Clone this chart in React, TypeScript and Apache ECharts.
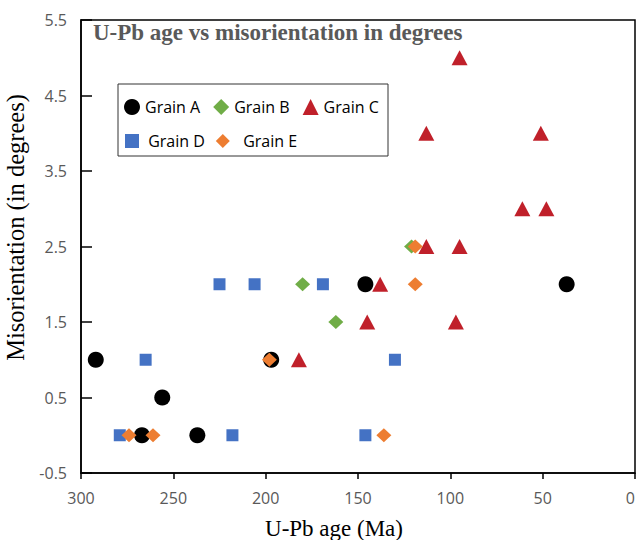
import React, { useEffect, useRef } from "react";
import * as echarts from "echarts";

const grainA: number[][] = [
  [292, 1], [256, 0.5], [267, 0], [237, 0], [197, 1], [146, 2], [37, 2],
];
const grainB: number[][] = [
  [121, 2.5], [180, 2], [162, 1.5],
];
const grainC: number[][] = [
  [95, 5], [113, 4], [51, 4], [61, 3], [48, 3], [113, 2.5], [95, 2.5],
  [138, 2], [145, 1.5], [97, 1.5], [182, 1],
];
const grainD: number[][] = [
  [225, 2], [206, 2], [169, 2], [265, 1], [130, 1], [279, 0], [218, 0], [146, 0],
];
const grainE: number[][] = [
  [119, 2.5], [119, 2], [198, 1], [274, 0], [261, 0], [136, 0],
];

const seriesNames = ["Grain A", "Grain B", "Grain C", "Grain D", "Grain E"];
const colors = ["#000000", "#70AD47", "#C0202A", "#4472C4", "#ED7D31"];

const titleText = "U-Pb age vs misorientation in degrees";
const xName = "U-Pb age (Ma)";
const yName = "Misorientation (in degrees)";

export default function App() {
  const ref = useRef<HTMLDivElement>(null);
  useEffect(() => {
    if (!ref.current) return;
    const chart = echarts.init(ref.current, null, { renderer: "svg" });
    const tickFont = {
      fontFamily: "'Open Sans', sans-serif",
      fontSize: 16,
      color: "#595959",
    };
    const option: any = {
      animation: false,
      backgroundColor: "#ffffff",
      title: {
        text: titleText,
        left: 93,
        top: 21,
        padding: 0,
        textStyle: {
          fontFamily: "'Liberation Serif', 'Times New Roman', serif",
          fontWeight: "bold",
          fontSize: 23,
          color: "#595959",
        },
      },
      grid: {
        left: 81,
        right: 3,
        top: 20,
        bottom: 67,
        outerBoundsMode: "none",
        containLabel: false,
        show: true,
        borderColor: "#000",
        borderWidth: 1.5,
        backgroundColor: "transparent",
      },
      graphic: [
        {
          type: "rect",
          z: 5,
          shape: { x: 118, y: 84, width: 270, height: 72 },
          style: { fill: "#ffffff", stroke: "#333333", lineWidth: 1 },
        },
      ],
      legend: [
        {
          z: 10,
          left: 124,
          top: 99,
          padding: 0,
          itemWidth: 16,
          itemHeight: 16,
          itemGap: 13,
          data: [
            { name: "Grain A", icon: "circle" },
            { name: "Grain B", icon: "diamond" },
            { name: "Grain C", icon: "triangle" },
          ],
          textStyle: {
            fontFamily: "'Open Sans', sans-serif",
            fontSize: 16,
            color: "#000",
          },
        },
        {
          z: 10,
          left: 125,
          top: 133,
          padding: 0,
          itemWidth: 14,
          itemHeight: 14,
          itemGap: 11,
          data: [
            { name: "Grain D", icon: "rect" },
            { name: "Grain E", icon: "diamond" },
          ],
          formatter: (name: string) => (name === "Grain E" ? "  " + name : " " + name),
          textStyle: {
            fontFamily: "'Open Sans', sans-serif",
            fontSize: 16,
            color: "#000",
          },
        },
      ],
      xAxis: {
        type: "value",
        inverse: true,
        min: 0,
        max: 300,
        interval: 50,
        name: xName,
        nameLocation: "middle",
        nameGap: 44,
        nameTextStyle: {
          fontFamily: "'Liberation Serif', 'Times New Roman', serif",
          fontSize: 23,
          color: "#000",
          padding: [0, 48, 0, 0],
        },
        axisLine: { show: true, onZero: false, lineStyle: { color: "#000", width: 1.5 } },
        axisTick: { show: true, inside: false, length: 6, lineStyle: { color: "#000", width: 1.5 } },
        axisLabel: { ...tickFont, margin: 17, alignMinLabel: "right" },
        splitLine: { show: false },
      },
      yAxis: [
        {
          type: "value",
          min: -0.5,
          max: 5.5,
          interval: 0.5,
          name: yName,
          nameLocation: "middle",
          nameGap: 47,
          nameTextStyle: {
            fontFamily: "'Liberation Serif', 'Times New Roman', serif",
            fontSize: 24.5,
            color: "#000",
            padding: [0, 0, 0, 38],
          },
          axisLine: { show: true, onZero: false, lineStyle: { color: "#000", width: 1.5 } },
          axisTick: { show: false },
          axisLabel: {
            ...tickFont,
            margin: 14,
            formatter: (v: number) => {
              const r = Math.round(v * 10) / 10;
              return Math.abs(r - Math.floor(r) - 0.5) < 1e-6 ? r.toFixed(1) : "";
            },
          },
          splitLine: { show: false },
        },
        {
          type: "value",
          min: 0,
          max: 6,
          interval: 1,
          position: "left",
          axisLine: { show: false, onZero: false },
          axisTick: { show: true, inside: true, length: 11, lineStyle: { color: "#000", width: 1.5 } },
          axisLabel: { show: false },
          splitLine: { show: false },
        },
      ],
      series: [
        { name: seriesNames[0], type: "scatter", symbol: "circle", symbolSize: 16, data: grainA, itemStyle: { color: colors[0], opacity: 1 } },
        { name: seriesNames[1], type: "scatter", symbol: "diamond", symbolSize: [15, 14], data: grainB, itemStyle: { color: colors[1], opacity: 1 } },
        { name: seriesNames[2], type: "scatter", symbol: "triangle", symbolSize: [16, 15], data: grainC, itemStyle: { color: colors[2], opacity: 1 } },
        { name: seriesNames[3], type: "scatter", symbol: "rect", symbolSize: 12, data: grainD, itemStyle: { color: colors[3], opacity: 1 } },
        { name: seriesNames[4], type: "scatter", symbol: "diamond", symbolSize: [15, 14], data: grainE, itemStyle: { color: colors[4], opacity: 1 } },
      ],
    };
    chart.setOption(option);
    return () => chart.dispose();
  }, []);
  return (
    <div
      ref={ref}
      style={{ position: "fixed", left: 0, top: 0, width: 638, height: 540 }}
    />
  );
}
